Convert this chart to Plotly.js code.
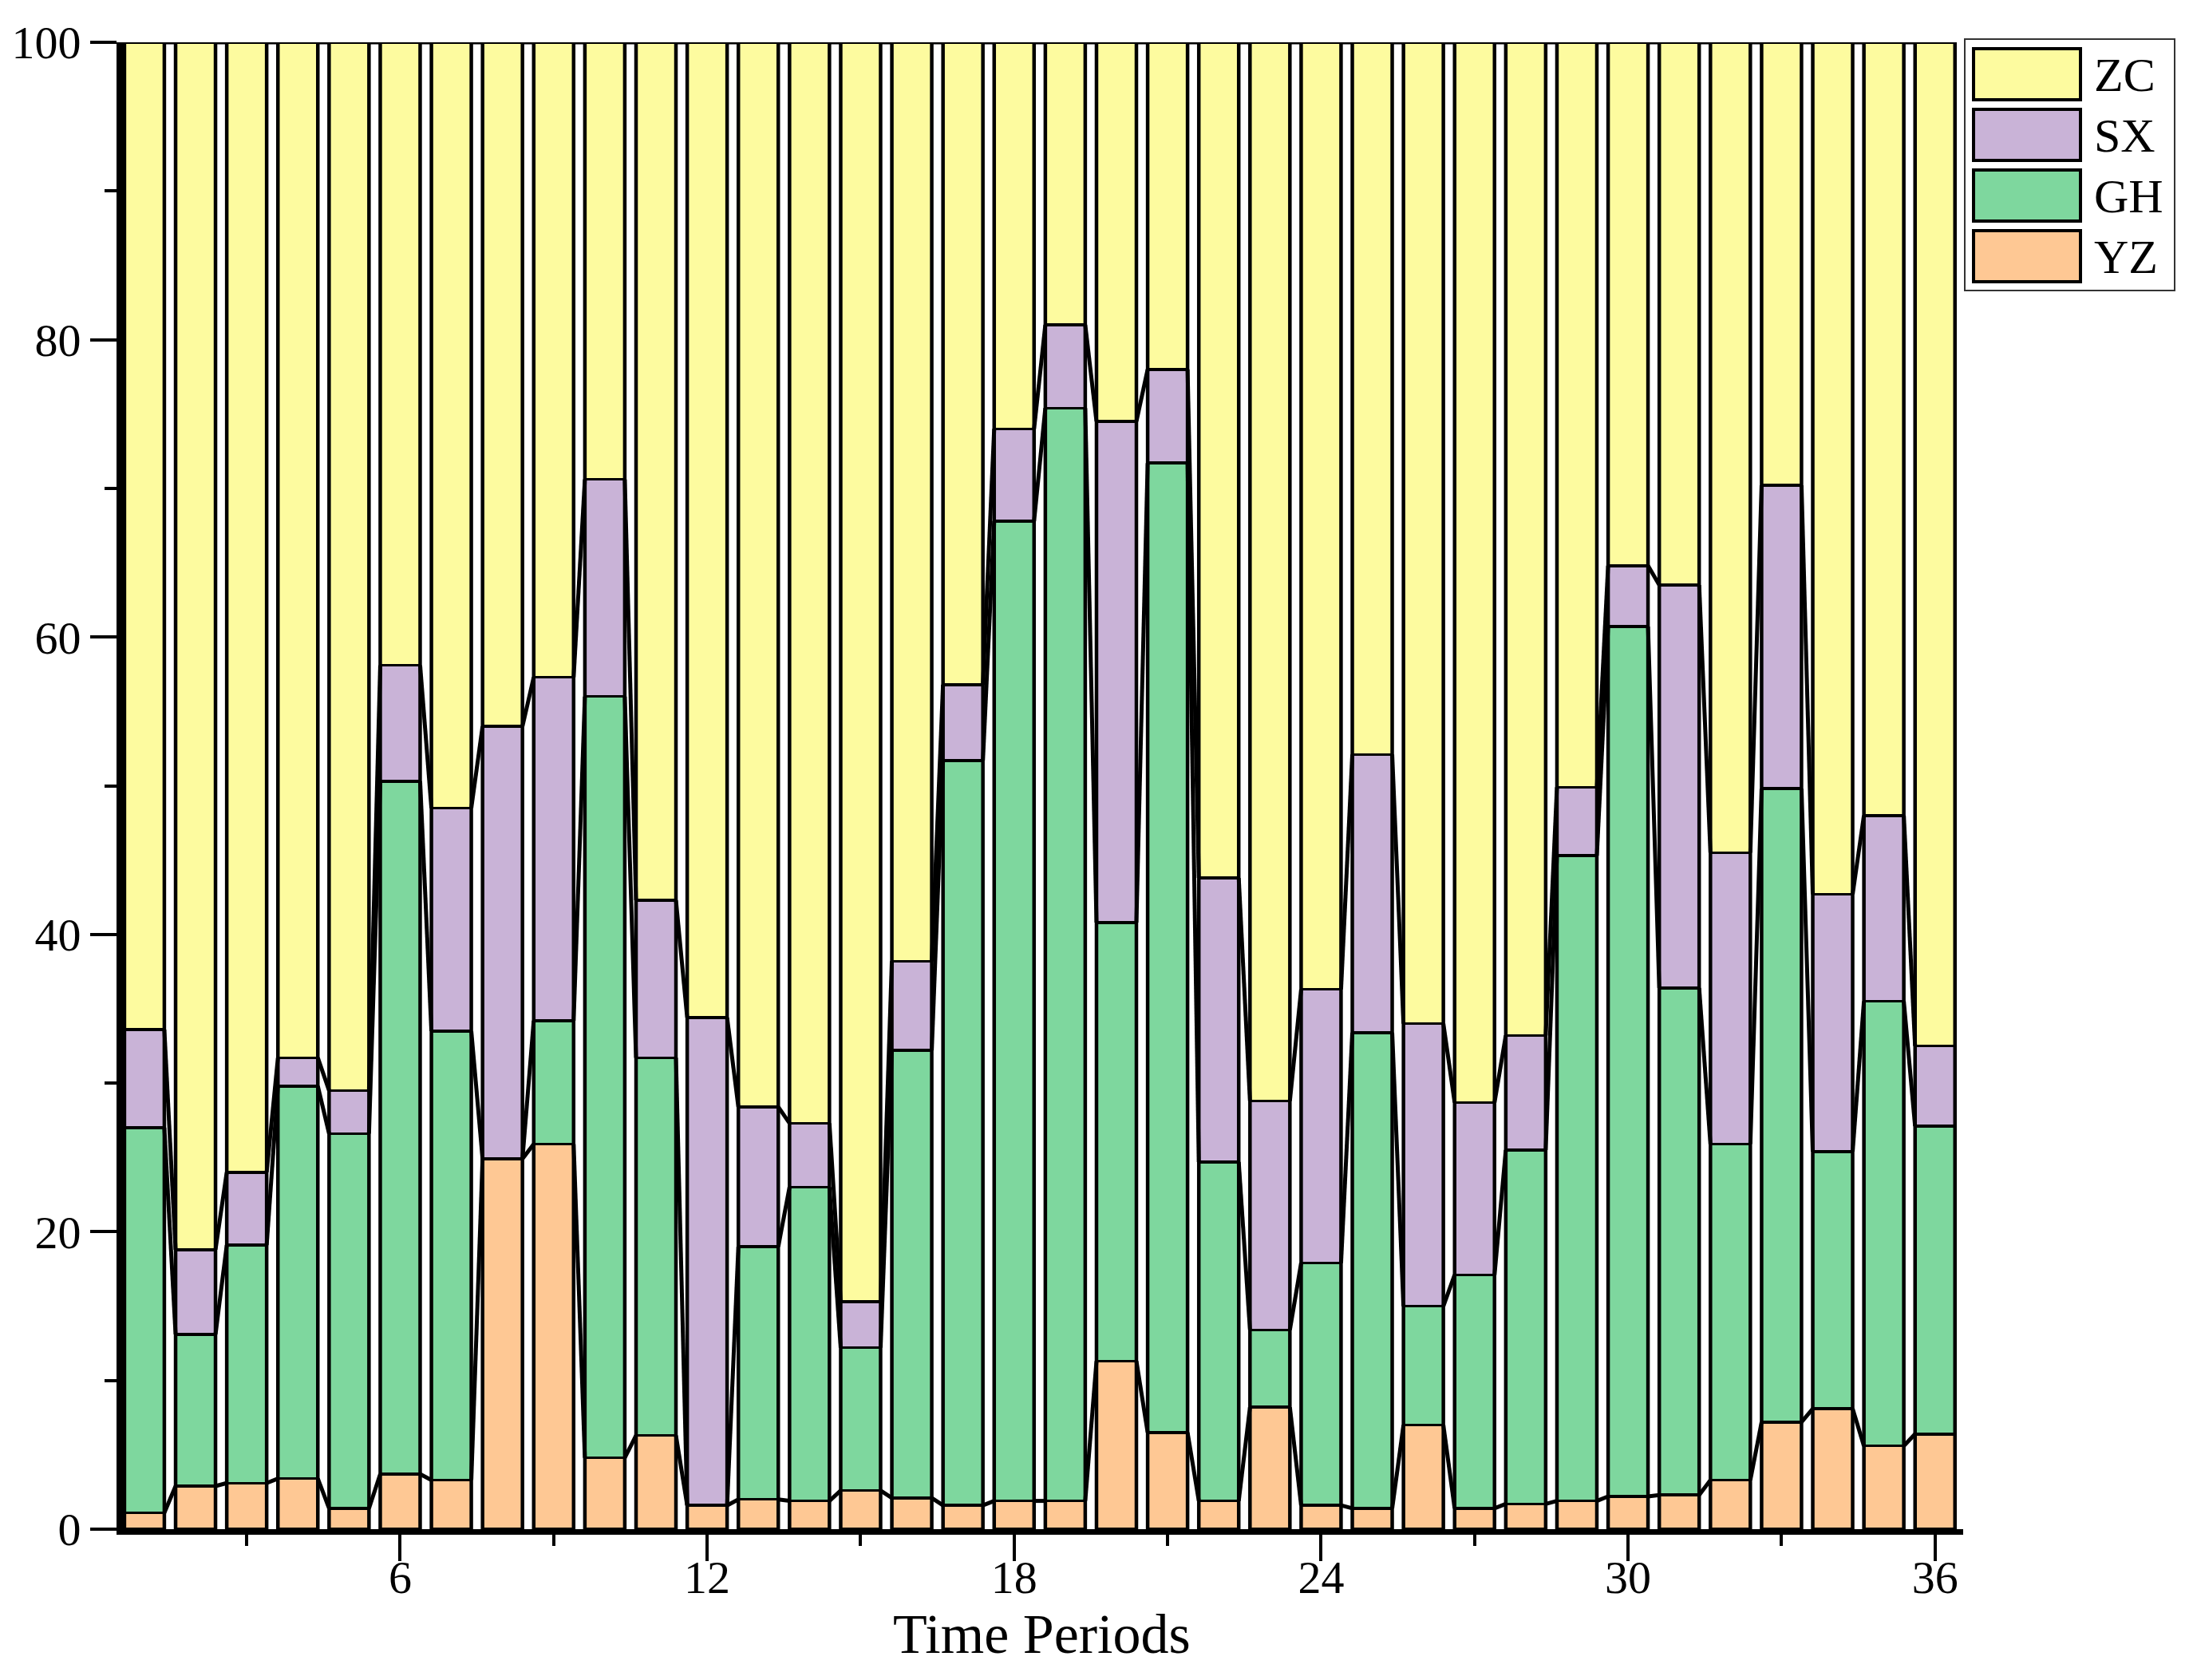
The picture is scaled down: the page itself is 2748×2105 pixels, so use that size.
<!DOCTYPE html>
<html><head><meta charset="utf-8">
<script src="https://cdn.plot.ly/plotly-3.0.1.min.js"></script>
<style>html,body{margin:0;padding:0;background:#fff}#chart{width:2748px;height:2105px}</style>
</head><body><div id="chart"></div>
<script>
const periods = [1,2,3,4,5,6,7,8,9,10,11,12,13,14,15,16,17,18,19,20,21,22,23,24,25,26,27,28,29,30,31,32,33,34,35,36];
const YZ = [1.1,2.9,3.1,3.4,1.4,3.7,3.3,24.9,25.9,4.8,6.3,1.6,2.0,1.9,2.6,2.1,1.6,1.9,1.9,11.3,6.5,1.9,8.2,1.6,1.4,7.0,1.4,1.7,1.9,2.2,2.3,3.3,7.2,8.1,5.6,6.4];
const GH = [25.9,10.2,16.0,26.4,25.2,46.6,30.2,0,8.3,51.2,25.4,0,17.0,21.1,9.6,30.1,50.1,65.9,73.5,29.5,65.2,22.8,5.2,16.3,32.0,8.0,15.7,23.8,43.4,58.5,34.1,22.6,42.6,17.3,29.9,20.7];
const SX = [6.6,5.7,4.9,1.9,2.9,7.8,15.0,29.1,23.1,14.6,10.6,32.8,9.4,4.3,3.1,6.0,5.1,6.2,5.6,33.7,6.3,19.1,15.4,18.4,18.7,19.0,11.6,7.7,4.6,4.1,27.1,19.6,20.4,17.3,12.5,5.4];
const ZC = [66.4,81.2,76.0,68.3,70.5,41.9,51.5,46.0,42.7,29.4,57.7,65.6,71.6,72.7,84.7,61.8,43.2,26.0,19.0,25.5,22.0,56.2,71.2,63.7,47.9,66.0,71.3,66.8,50.1,35.2,36.5,54.5,29.8,57.3,52.0,67.5];
const xTickVals = [6,12,18,24,30,36];
const yTickVals = [0,20,40,60,80,100];
const xTitle = 'Time Periods';

const stackNames = ['YZ','GH','SX','ZC'];
const stackValues = {YZ: YZ, GH: GH, SX: SX, ZC: ZC};
const legendNames = ['ZC','SX','GH','YZ'];
const colors = {ZC:'#FDFB9F', SX:'#C9B3D7', GH:'#7ED79E', YZ:'#FEC894'};

const BAR_W = 0.78;
const FONT = 'Liberation Serif, Times New Roman, serif';
const W = 2748, H = 2105;
const M = {l:154, r:288, t:53, b:189};

const traces = [];
stackNames.forEach(n => {
  traces.push({
    type:'bar', name:n, x:periods, y:stackValues[n], width:BAR_W,
    marker:{color:colors[n], line:{color:'#000', width:3.5}},
    showlegend:false, hoverinfo:'x+y+name'
  });
});

// cumulative levels for connecting lines between bars
const cum = [];
let running = periods.map(() => 0);
stackNames.forEach(n => {
  running = running.map((v,i) => v + stackValues[n][i]);
  cum.push(running.slice());
});
cum.forEach(level => {
  const xs = [], ys = [];
  for (let i = 0; i < periods.length - 1; i++) {
    xs.push(periods[i] + BAR_W/2, periods[i+1] - BAR_W/2, null);
    ys.push(level[i], level[i+1], null);
  }
  traces.push({type:'scatter', mode:'lines', x:xs, y:ys, line:{color:'#000', width:5},
    showlegend:false, hoverinfo:'skip', connectgaps:false});
});
// thick vertical bar edges
{
  const xs = [], ys = [];
  periods.forEach((p,i) => {
    const top = cum[cum.length-1][i];
    xs.push(p - BAR_W/2, p - BAR_W/2, null, p + BAR_W/2, p + BAR_W/2, null);
    ys.push(0, top, null, 0, top, null);
  });
  traces.push({type:'scatter', mode:'lines', x:xs, y:ys, line:{color:'#000', width:4.5},
    showlegend:false, hoverinfo:'skip'});
}

// custom legend and axis title (pixel -> paper)
const pw = W - M.l - M.r, ph = H - M.t - M.b;
const px = v => (v - M.l) / pw;
const py = v => (H - M.b - v) / ph;
const shapes = [{type:'rect', xref:'paper', yref:'paper', x0:px(2462), x1:px(2725), y0:py(364), y1:py(49),
  line:{color:'#333', width:2}, fillcolor:'rgba(0,0,0,0)'}];
const annotations = [];
legendNames.forEach((n,k) => {
  const top = 61 + k*76;
  shapes.push({type:'rect', xref:'paper', yref:'paper', x0:px(2473), x1:px(2607), y0:py(top+64), y1:py(top),
    line:{color:'#000', width:4}, fillcolor:colors[n]});
  annotations.push({xref:'paper', yref:'paper', x:px(2622), y:py(top+33), xanchor:'left', yanchor:'middle',
    text:n, showarrow:false, font:{family:FONT, size:60, color:'#000'}});
});
annotations.push({xref:'paper', yref:'paper', x:px(1305), y:py(2047), xanchor:'center', yanchor:'middle',
  text:xTitle, showarrow:false, font:{family:FONT, size:70, color:'#000'}});

const layout = {
  width:W, height:H, margin:M, paper_bgcolor:'#fff', plot_bgcolor:'#fff',
  barmode:'stack', showlegend:false,
  font:{family:FONT, color:'#000'},
  xaxis:{range:[0.58,36.55], tickmode:'array', tickvals:xTickVals, ticks:'outside', ticklen:33, tickwidth:4,
    tickcolor:'#000', showgrid:false, zeroline:false, showline:true, linecolor:'#000', linewidth:7,
    tickfont:{family:FONT, size:58, color:'#000'}, ticklabelstandoff:-30,
    minor:{tickmode:'linear', tick0:0, dtick:3, ticks:'outside', ticklen:14, tickwidth:4, tickcolor:'#000', showgrid:false},
    automargin:false},
  yaxis:{range:[0,100], tickmode:'array', tickvals:yTickVals, ticks:'outside', ticklen:33, tickwidth:4,
    tickcolor:'#000', showgrid:false, zeroline:false, showline:true, linecolor:'#000', linewidth:8,
    tickfont:{family:FONT, size:58, color:'#000'},
    minor:{tickmode:'linear', tick0:0, dtick:10, ticks:'outside', ticklen:15, tickwidth:4, tickcolor:'#000', showgrid:false},
    automargin:false},
  shapes:shapes, annotations:annotations
};

Plotly.newPlot('chart', traces, layout, {staticPlot:true, displayModeBar:false});
</script>
</body></html>
